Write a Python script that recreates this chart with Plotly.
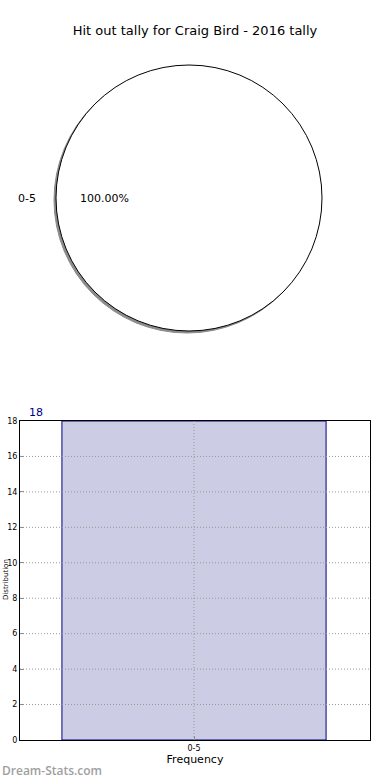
import plotly.graph_objects as go

categories = ["0-5"]
counts = [18]
pct_labels = ["100.00%"]
y_ticks = list(range(0, 19, 2))

W, H = 390, 780
FONT = "DejaVu Sans"

def px_x(x):
    return x / W

def px_y(y):
    return 1 - y / H

fig = go.Figure()

# Pie (with shadow)
cx, cy, r = 189, 198, 133
sx, sy = -2, 2
fig.add_trace(go.Pie(
    labels=categories, values=counts, textinfo="none", sort=False,
    marker=dict(colors=["#8c8c8c"], line=dict(color="#8c8c8c", width=1)),
    domain=dict(x=[px_x(cx - r + sx), px_x(cx + r + sx)], y=[px_y(cy + r + sy), px_y(cy - r + sy)]),
    hoverinfo="skip", showlegend=False,
))
fig.add_trace(go.Pie(
    labels=categories, values=counts, textinfo="none", sort=False,
    marker=dict(colors=["#ffffff"], line=dict(color="#000000", width=1)),
    domain=dict(x=[px_x(cx - r), px_x(cx + r)], y=[px_y(cy + r), px_y(cy - r)]),
    showlegend=False,
))

# Bar
fig.add_trace(go.Bar(
    x=categories, y=counts, width=0.8,
    marker=dict(color="#ccccE4", line=dict(color="#00008b", width=1)),
    showlegend=False,
))

GRID = dict(color="#999999", width=1, dash="1px,2px")

fig.update_layout(
    width=W, height=H,
    margin=dict(l=0, r=0, t=0, b=0, autoexpand=False),
    paper_bgcolor="white", plot_bgcolor="white",
    font=dict(family=FONT, color="#000000"),
    title=dict(text="Hit out tally for Craig Bird - 2016 tally", x=0.5, xanchor="center",
               y=px_y(30), yanchor="middle", font=dict(size=13, family=FONT, color="#000")),
    xaxis=dict(domain=[px_x(20), px_x(370)], range=[-0.527, 0.533], type="category",
               showline=True, linecolor="#000", linewidth=1, mirror=True, layer="above traces",
               showgrid=False,
               ticks="inside", ticklen=4, tickcolor="#888", tickfont=dict(size=8, family=FONT),
               title=dict(text="Frequency", font=dict(size=11, family=FONT), standoff=2),
               automargin=False, zeroline=False, fixedrange=True),
    yaxis=dict(domain=[px_y(740), px_y(421)], range=[0, 18], tickvals=y_ticks,
               showline=True, linecolor="#000", linewidth=1, mirror=True, layer="above traces",
               showgrid=False,
               ticks="inside", ticklen=4, tickcolor="#888", tickfont=dict(size=8, family=FONT),
               automargin=False, zeroline=False, fixedrange=True),
)

# Gridlines drawn above the bar, as in the original (positions from the axes' own scales)
for v in y_ticks[1:-1]:
    fig.add_shape(type="line", xref="x domain", yref="y", x0=0, x1=1, y0=v, y1=v,
                  line=GRID, layer="above")
fig.add_shape(type="line", xref="x", yref="y domain", x0=categories[0], x1=categories[0], y0=0, y1=1,
              line=GRID, layer="above")

# Y axis title at the left edge
fig.add_annotation(text="Distribution", x=0, y=px_y(580), xref="paper", yref="paper",
                   xanchor="left", yanchor="middle",
                   textangle=-90, showarrow=False, font=dict(size=7, family=FONT, color="#000"))

# Pie labels
fig.add_annotation(text=categories[0], x=px_x(27), y=px_y(198), xref="paper", yref="paper",
                   xanchor="center", yanchor="middle",
                   showarrow=False, font=dict(size=11, family=FONT, color="#000"))
fig.add_annotation(text=pct_labels[0], x=px_x(104), y=px_y(198), xref="paper", yref="paper",
                   xanchor="center", yanchor="middle",
                   showarrow=False, font=dict(size=11, family=FONT, color="#000"))

# Count label above bar chart
fig.add_annotation(text=str(counts[0]), x=px_x(36), y=px_y(412), xref="paper", yref="paper",
                   xanchor="center", yanchor="middle",
                   showarrow=False, font=dict(size=11, family=FONT, color="#00008b"))

# Watermark
fig.add_annotation(text="Dream-Stats.com", x=0, y=px_y(770), xref="paper", yref="paper",
                   xanchor="left", yanchor="middle",
                   showarrow=False, font=dict(size=12, family="Open Sans", color="#a0a0a0", weight=600))

fig.write_html("out.html")
